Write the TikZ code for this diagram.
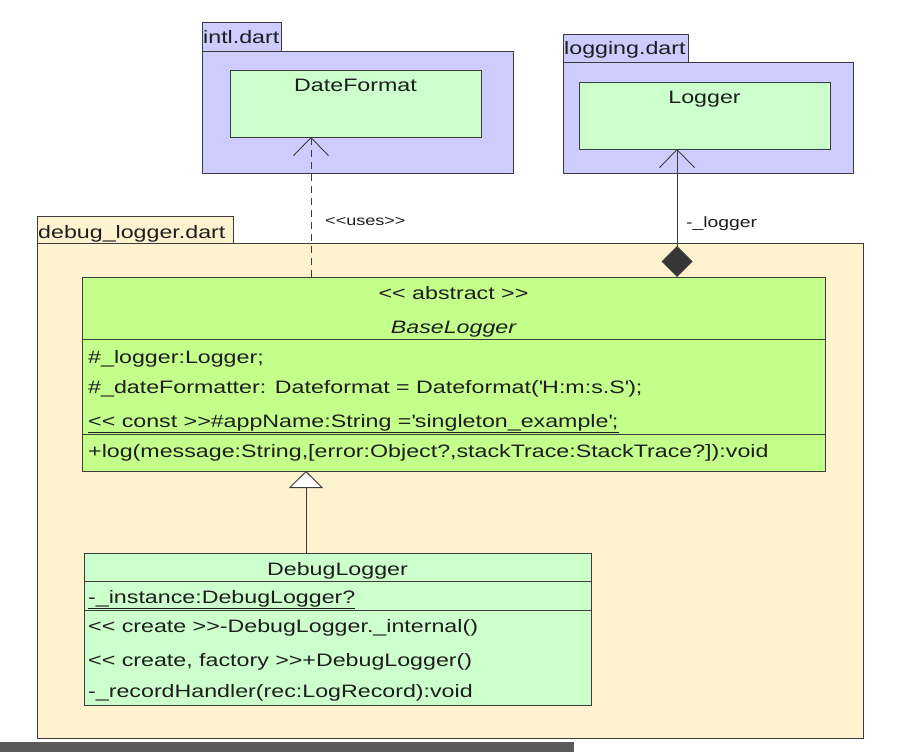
\documentclass[tikz,border=0pt]{standalone}
\usepackage{fontspec}
\setmainfont{Liberation Sans}[FakeStretch=1.29, Ligatures=TeXOff]
\usetikzlibrary{arrows.meta}
\definecolor{pkgblue}{RGB}{204,204,255}
\definecolor{pkgcream}{RGB}{255,242,206}
\definecolor{clsgreen}{RGB}{204,255,204}
\definecolor{absgreen}{RGB}{196,255,140}
\definecolor{edgecol}{RGB}{60,60,60}
\definecolor{barcol}{RGB}{90,90,90}
\definecolor{txtcol}{RGB}{30,30,30}
\begin{document}
\begin{tikzpicture}[x=1pt,y=-1pt,
  box/.style={draw=edgecol, line width=0.9pt, anchor=north west, inner sep=0pt, outer sep=0pt},
  txt/.style={inner sep=0pt, anchor=base west, font=\fontsize{18}{20}\selectfont, text=txtcol},
  ctxt/.style={txt, anchor=base},
  smalltxt/.style={inner sep=0pt, anchor=base west, font=\fontsize{14}{16}\selectfont, text=txtcol},
  sep/.style={draw=edgecol, line width=0.9pt},
  conn/.style={draw=edgecol, line width=0.9pt},
  openhead/.style={-{Straight Barb[length=18pt,width=35pt]}},
]
\useasboundingbox (0,0) rectangle (899,752);
\fill[white] (0,0) rectangle (899,752);

% ---------- intl.dart package ----------
\node[box, fill=pkgblue, minimum width=79pt, minimum height=29pt] (intltab) at (202,22) {};
\node[box, fill=pkgblue, minimum width=311pt, minimum height=122pt] (intlbody) at (202,51) {};
\node[txt] (intlname) at (203,44) {intl.dart};
\node[box, fill=clsgreen, minimum width=251pt, minimum height=67pt] (dateformat) at (230,70) {};
\node[ctxt] (dateformatname) at (355.5,92) {DateFormat};

% ---------- logging.dart package ----------
\node[box, fill=pkgblue, minimum width=125pt, minimum height=28pt] (logtab) at (563,34) {};
\node[box, fill=pkgblue, minimum width=290pt, minimum height=111pt] (logbody) at (563,62) {};
\node[txt] (logname) at (564,55) {logging.dart};
\node[box, fill=clsgreen, minimum width=251pt, minimum height=67pt] (logger) at (579,82) {};
\node[ctxt] (loggername) at (704.5,103) {Logger};

% ---------- debug_logger.dart package ----------
\node[box, fill=pkgcream, minimum width=196pt, minimum height=27pt] (dbgtab) at (37,216) {};
\node[box, fill=pkgcream, minimum width=826pt, minimum height=495pt] (dbgbody) at (37,243) {};
\node[txt] (dbgname) at (38,238) {debug\_logger.dart};

% ---------- BaseLogger ----------
\node[box, fill=absgreen, minimum width=743pt, minimum height=194pt] (base) at (82,277) {};
\draw[sep] ([yshift=-62pt]base.north west) -- ([yshift=-62pt]base.north east);
\draw[sep] ([yshift=-157pt]base.north west) -- ([yshift=-157pt]base.north east);
\node[ctxt] (b0) at (453.5,299) {<< abstract >>};
\node[ctxt] (b1) at (453.5,333) {\itshape BaseLogger};
\node[txt] (b2) at (88,363) {\#\_logger:Logger;};
\node[txt] (b3) at (88,393) {\#\_dateFormatter: Dateformat = Dateformat(\textquotesingle H:m:s.S\textquotesingle);};
\node[txt] (b4) at (88,427) {\underline{<< const >>\#appName:String =\textquotesingle singleton\_example\textquotesingle;}};
\node[txt] (b5) at (88,457) {+log(message:String,[error:Object?,stackTrace:StackTrace?]):void};

% ---------- DebugLogger ----------
\node[box, fill=clsgreen, minimum width=507pt, minimum height=152pt] (debug) at (84,553) {};
\draw[sep] ([yshift=-28pt]debug.north west) -- ([yshift=-28pt]debug.north east);
\draw[sep] ([yshift=-57pt]debug.north west) -- ([yshift=-57pt]debug.north east);
\node[ctxt] (d0) at (337.5,575) {DebugLogger};
\node[txt] (d1) at (88,603) {\underline{-\_instance:DebugLogger?}};
\node[txt] (d2) at (88,632) {<< create >>-DebugLogger.\_internal()};
\node[txt] (d3) at (88,666) {<< create, factory >>+DebugLogger()};
\node[txt] (d4) at (88,697) {-\_recordHandler(rec:LogRecord):void};

% ---------- connectors ----------
\coordinate (usesfrom) at (311,277);
\draw[conn, dashed, dash pattern=on 7pt off 5pt, openhead] (usesfrom) -- (usesfrom |- dateformat.south);
\node[smalltxt] (useslabel) at (325,225) {<<uses>>};

\coordinate (logfrom) at (677,277);
\draw[conn, {Diamond[length=31pt,width=31pt,fill=edgecol!90!black]}-{Straight Barb[length=18pt,width=35pt]}] (logfrom) -- (logfrom |- logger.south);
\node[txt, font=\fontsize{15}{17}\selectfont] (loglabel) at (686,227) {-\_logger};

\coordinate (inhfrom) at (306,553);
\draw[conn, -{Triangle[open,length=17pt,width=34pt,fill=white]}] (inhfrom) -- (inhfrom |- base.south);

% ---------- screenshot bar ----------
\fill[barcol] (0,742) rectangle (574,752);
\end{tikzpicture}
\end{document}
